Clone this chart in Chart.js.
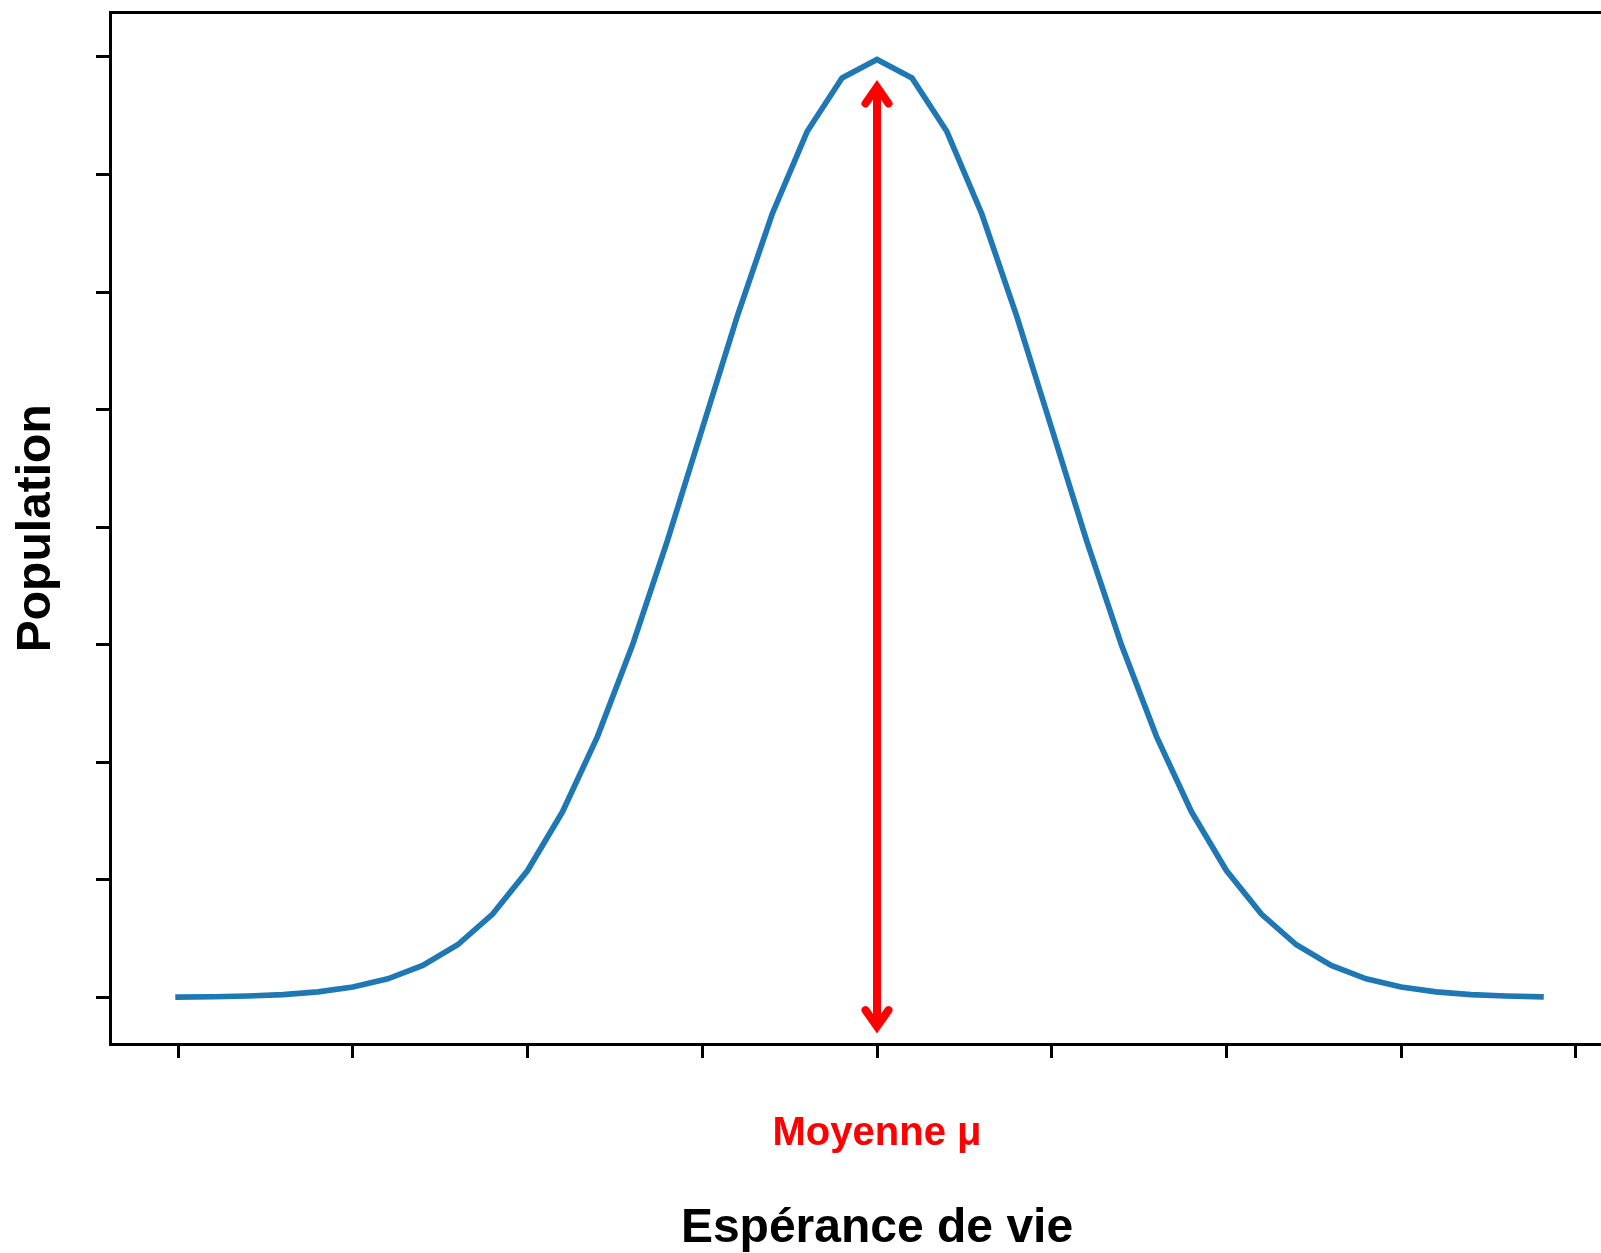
<!DOCTYPE html>
<html>
<head>
<meta charset="utf-8">
<script src="https://cdn.jsdelivr.net/npm/chart.js"></script>
<style>
  html, body { margin: 0; padding: 0; overflow: hidden; background: #fff; }
  canvas { display: block; }
</style>
</head>
<body>
<canvas id="myChart" width="1644" height="1253"></canvas>
<script>
const ctx = document.getElementById('myChart');

// life expectancy (standardised) and population density
const xValues = [-4, -3.8, -3.6, -3.4, -3.2, -3, -2.8, -2.6, -2.4, -2.2,
                 -2, -1.8, -1.6, -1.4, -1.2, -1, -0.8, -0.6, -0.4, -0.2,
                 0, 0.2, 0.4, 0.6, 0.8, 1, 1.2, 1.4, 1.6, 1.8,
                 2, 2.2, 2.4, 2.6, 2.8, 3, 3.2, 3.4, 3.6, 3.8];
const population = [0.00013, 0.00029, 0.00061, 0.00123, 0.00238, 0.00443, 0.00792, 0.01358, 0.0224, 0.03547,
                    0.05399, 0.07895, 0.11092, 0.14973, 0.19419, 0.24197, 0.28969, 0.33322, 0.36827, 0.39104,
                    0.39894, 0.39104, 0.36827, 0.33322, 0.28969, 0.24197, 0.19419, 0.14973, 0.11092, 0.07895,
                    0.05399, 0.03547, 0.0224, 0.01358, 0.00792, 0.00443, 0.00238, 0.00123, 0.00061, 0.00029];

const xTicks = [-4, -3, -2, -1, 0, 1, 2, 3, 4];
const yTicks = [0, 0.05, 0.1, 0.15, 0.2, 0.25, 0.3, 0.35, 0.4];
const xLimits = [-4.39, 4.39];
const yLimits = [-0.0198, 0.4189];

const meanValue = 0;
const arrowSpan = [-0.0124, 0.3872];
const meanLabel = 'Moyenne \u03bc';

const FONT = "'Liberation Sans', Arial, sans-serif";
Chart.defaults.font.family = FONT;

const meanMarker = {
  id: 'meanMarker',
  afterDatasetsDraw(chart) {
    const c = chart.ctx;
    const x = chart.scales.x, y = chart.scales.y;
    const px = x.getPixelForValue(meanValue);
    const top = y.getPixelForValue(arrowSpan[1]);
    const bottom = y.getPixelForValue(arrowSpan[0]);
    const hl = 16.5, hw = 11.5;
    c.save();
    c.strokeStyle = '#ff0000';
    c.lineWidth = 8;
    c.beginPath();
    c.moveTo(px, bottom);
    c.lineTo(px, top);
    c.stroke();
    c.lineJoin = 'miter';
    c.lineCap = 'round';
    c.beginPath();
    c.moveTo(px - hw, top + hl); c.lineTo(px, top); c.lineTo(px + hw, top + hl);
    c.moveTo(px - hw, bottom - hl); c.lineTo(px, bottom); c.lineTo(px + hw, bottom - hl);
    c.stroke();
    c.fillStyle = '#ff0000';
    c.font = 'bold 40px ' + FONT;
    c.textAlign = 'center';
    c.textBaseline = 'alphabetic';
    c.fillText(meanLabel, px, chart.chartArea.bottom + 101);
    c.restore();
  }
};

const axisGrid = { display: true, drawOnChartArea: false, drawTicks: true, tickLength: 14, tickWidth: 3, tickColor: '#000' };
const axisBorder = { display: true, color: '#000', width: 3 };

new Chart(ctx, {
  type: 'line',
  data: {
    datasets: [{
      data: xValues.map((v, i) => ({ x: v, y: population[i] })),
      borderColor: '#1f77b4',
      borderWidth: 5.7,
      borderCapStyle: 'square',
      pointRadius: 0,
      tension: 0,
      fill: false
    }]
  },
  options: {
    responsive: false,
    devicePixelRatio: 1,
    animation: false,
    layout: { padding: 0 },
    scales: {
      x: {
        type: 'linear',
        min: xLimits[0], max: xLimits[1],
        afterBuildTicks: s => { s.ticks = xTicks.map(v => ({ value: v })); },
        afterFit: s => { s.height = 209; },
        ticks: { display: false },
        grid: axisGrid,
        border: axisBorder,
        title: { display: true, text: 'Espérance de vie', color: '#000', font: { size: 48, weight: 'bold', lineHeight: 1 }, padding: 0 }
      },
      xTop: {
        type: 'linear',
        position: 'top',
        min: xLimits[0], max: xLimits[1],
        afterFit: s => { s.height = 12.5; },
        ticks: { display: false },
        grid: { display: false, drawTicks: false },
        border: axisBorder
      },
      y: {
        min: yLimits[0], max: yLimits[1],
        afterBuildTicks: s => { s.ticks = yTicks.map(v => ({ value: v })); },
        afterFit: s => { s.width = 110; },
        ticks: { display: false },
        grid: axisGrid,
        border: axisBorder,
        title: { display: true, text: 'Population', color: '#000', font: { size: 48, weight: 'bold', lineHeight: 1 }, padding: { top: 13, bottom: 0 } }
      }
    },
    plugins: {
      legend: { display: false },
      tooltip: { enabled: false }
    }
  },
  plugins: [meanMarker]
});
</script>
</body>
</html>
